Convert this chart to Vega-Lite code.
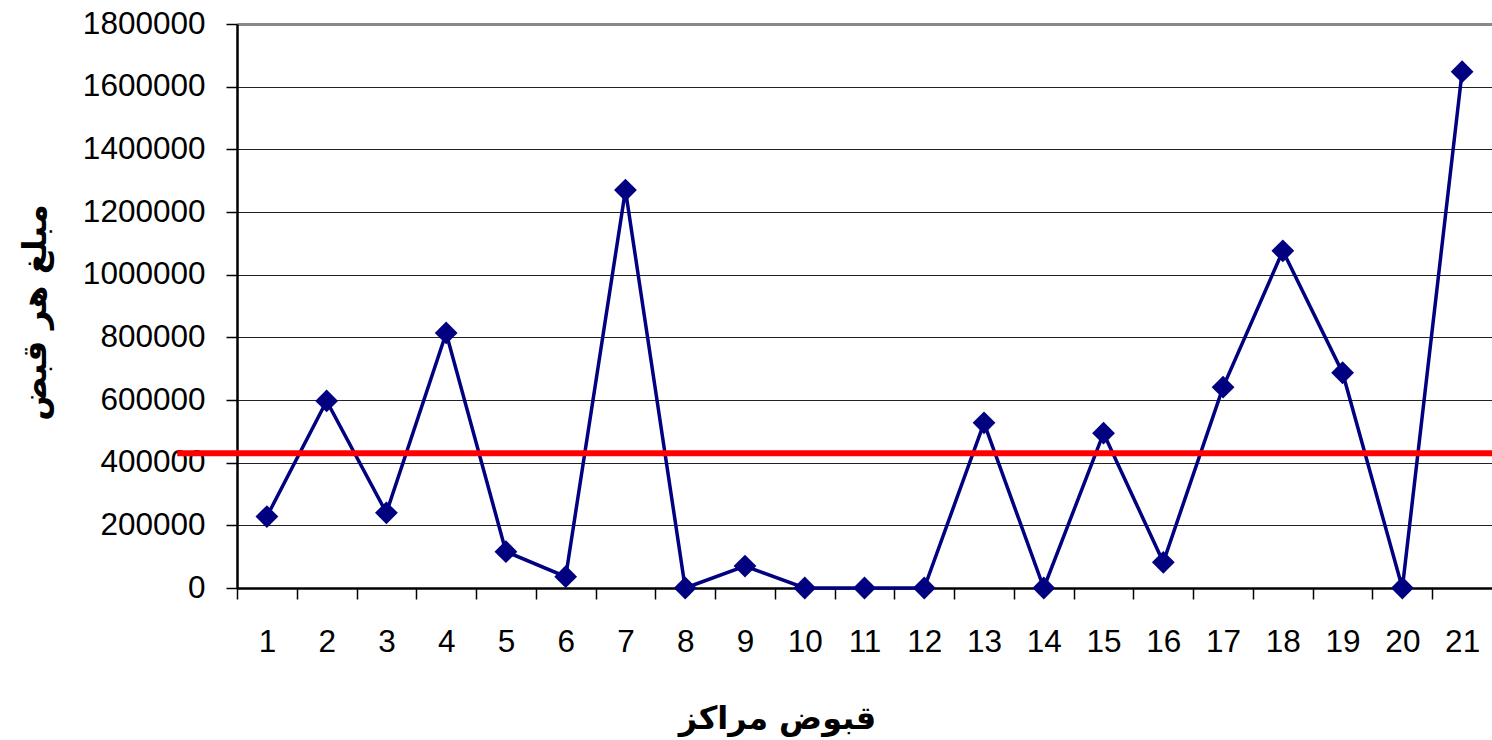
{
  "$schema": "https://vega.github.io/schema/vega-lite/v6.json",
  "autosize": "none",
  "width": 1255,
  "height": 564,
  "padding": {"left": 237, "top": 24, "right": 0, "bottom": 152},
  "background": "white",
  "config": {"view": {"stroke": null}},
  "datasets": {
    "series": [
      {"center": 1, "amount": 228000},
      {"center": 2, "amount": 597000},
      {"center": 3, "amount": 240000},
      {"center": 4, "amount": 814000},
      {"center": 5, "amount": 116000},
      {"center": 6, "amount": 36000},
      {"center": 7, "amount": 1270000},
      {"center": 8, "amount": 0},
      {"center": 9, "amount": 70000},
      {"center": 10, "amount": 0},
      {"center": 11, "amount": 0},
      {"center": 12, "amount": 0},
      {"center": 13, "amount": 527000},
      {"center": 14, "amount": 0},
      {"center": 15, "amount": 494000},
      {"center": 16, "amount": 82000},
      {"center": 17, "amount": 641000},
      {"center": 18, "amount": 1076000},
      {"center": 19, "amount": 687000},
      {"center": 20, "amount": 0},
      {"center": 21, "amount": 1648000}
    ],
    "mean": [{"start": -0.5, "end": 21.5, "value": 430000}]
  },
  "layer": [
    {
      "data": {"name": "series"},
      "mark": {"type": "line", "color": "#000080", "strokeWidth": 3.5},
      "encoding": {
        "x": {
          "field": "center",
          "type": "quantitative",
          "scale": {"domain": [0.5, 21.5], "nice": false, "zero": false},
          "axis": {
            "values": [0.5, 1.5, 2.5, 3.5, 4.5, 5.5, 6.5, 7.5, 8.5, 9.5, 10.5, 11.5, 12.5, 13.5, 14.5, 15.5, 16.5, 17.5, 18.5, 19.5, 20.5],
            "labelExpr": "'' + (datum.value + 0.5)",
            "labelOffset": 29.9,
            "labelFlush": false,
            "labelOverlap": false,
            "grid": false,
            "tickSize": 11,
            "tickColor": "#000",
            "tickWidth": 1.5,
            "domainColor": "#000",
            "domainWidth": 2.5,
            "labelFont": "Liberation Sans",
            "labelFontSize": 31.5,
            "labelColor": "#000",
            "labelPadding": 27,
            "title": "قبوض مراکز",
            "titleFont": "DejaVu Sans",
            "titleFontWeight": "bold",
            "titleFontSize": 32,
            "titleColor": "#000",
            "titleX": 540,
            "titleY": 130,
            "titleAlign": "center",
            "titleBaseline": "middle"
          }
        },
        "y": {
          "field": "amount",
          "type": "quantitative",
          "scale": {"domain": [0, 1800000], "nice": false},
          "axis": {
            "values": [0, 200000, 400000, 600000, 800000, 1000000, 1200000, 1400000, 1600000, 1800000],
            "format": "d",
            "grid": true,
            "gridColor": {"condition": {"test": "datum.value === 1800000", "value": "#888888"}, "value": "#222222"},
            "gridWidth": {"condition": {"test": "datum.value === 1800000", "value": 3}, "value": 1.2},
            "tickSize": 11,
            "tickColor": "#000",
            "tickWidth": 1.5,
            "domainColor": "#000",
            "domainWidth": 2.5,
            "labelFont": "Liberation Sans",
            "labelFontSize": 31.5,
            "labelColor": "#000",
            "labelPadding": 21,
            "title": "مبلغ هر قبض",
            "titleFont": "DejaVu Sans",
            "titleFontWeight": "bold",
            "titleFontSize": 33,
            "titleColor": "#000",
            "titleAngle": 270,
            "titleX": -202,
            "titleY": 288,
            "titleAlign": "center",
            "titleBaseline": "middle"
          }
        }
      }
    },
    {
      "data": {"name": "series"},
      "mark": {"type": "point", "shape": "diamond", "filled": true, "color": "#000080", "size": 520, "opacity": 1},
      "encoding": {
        "x": {"field": "center", "type": "quantitative"},
        "y": {"field": "amount", "type": "quantitative"}
      }
    },
    {
      "data": {"name": "mean"},
      "mark": {"type": "rule", "color": "#ff0000", "strokeWidth": 6, "clip": false},
      "encoding": {
        "x": {"field": "start", "type": "quantitative"},
        "x2": {"field": "end"},
        "y": {"field": "value", "type": "quantitative"}
      }
    }
  ]
}
